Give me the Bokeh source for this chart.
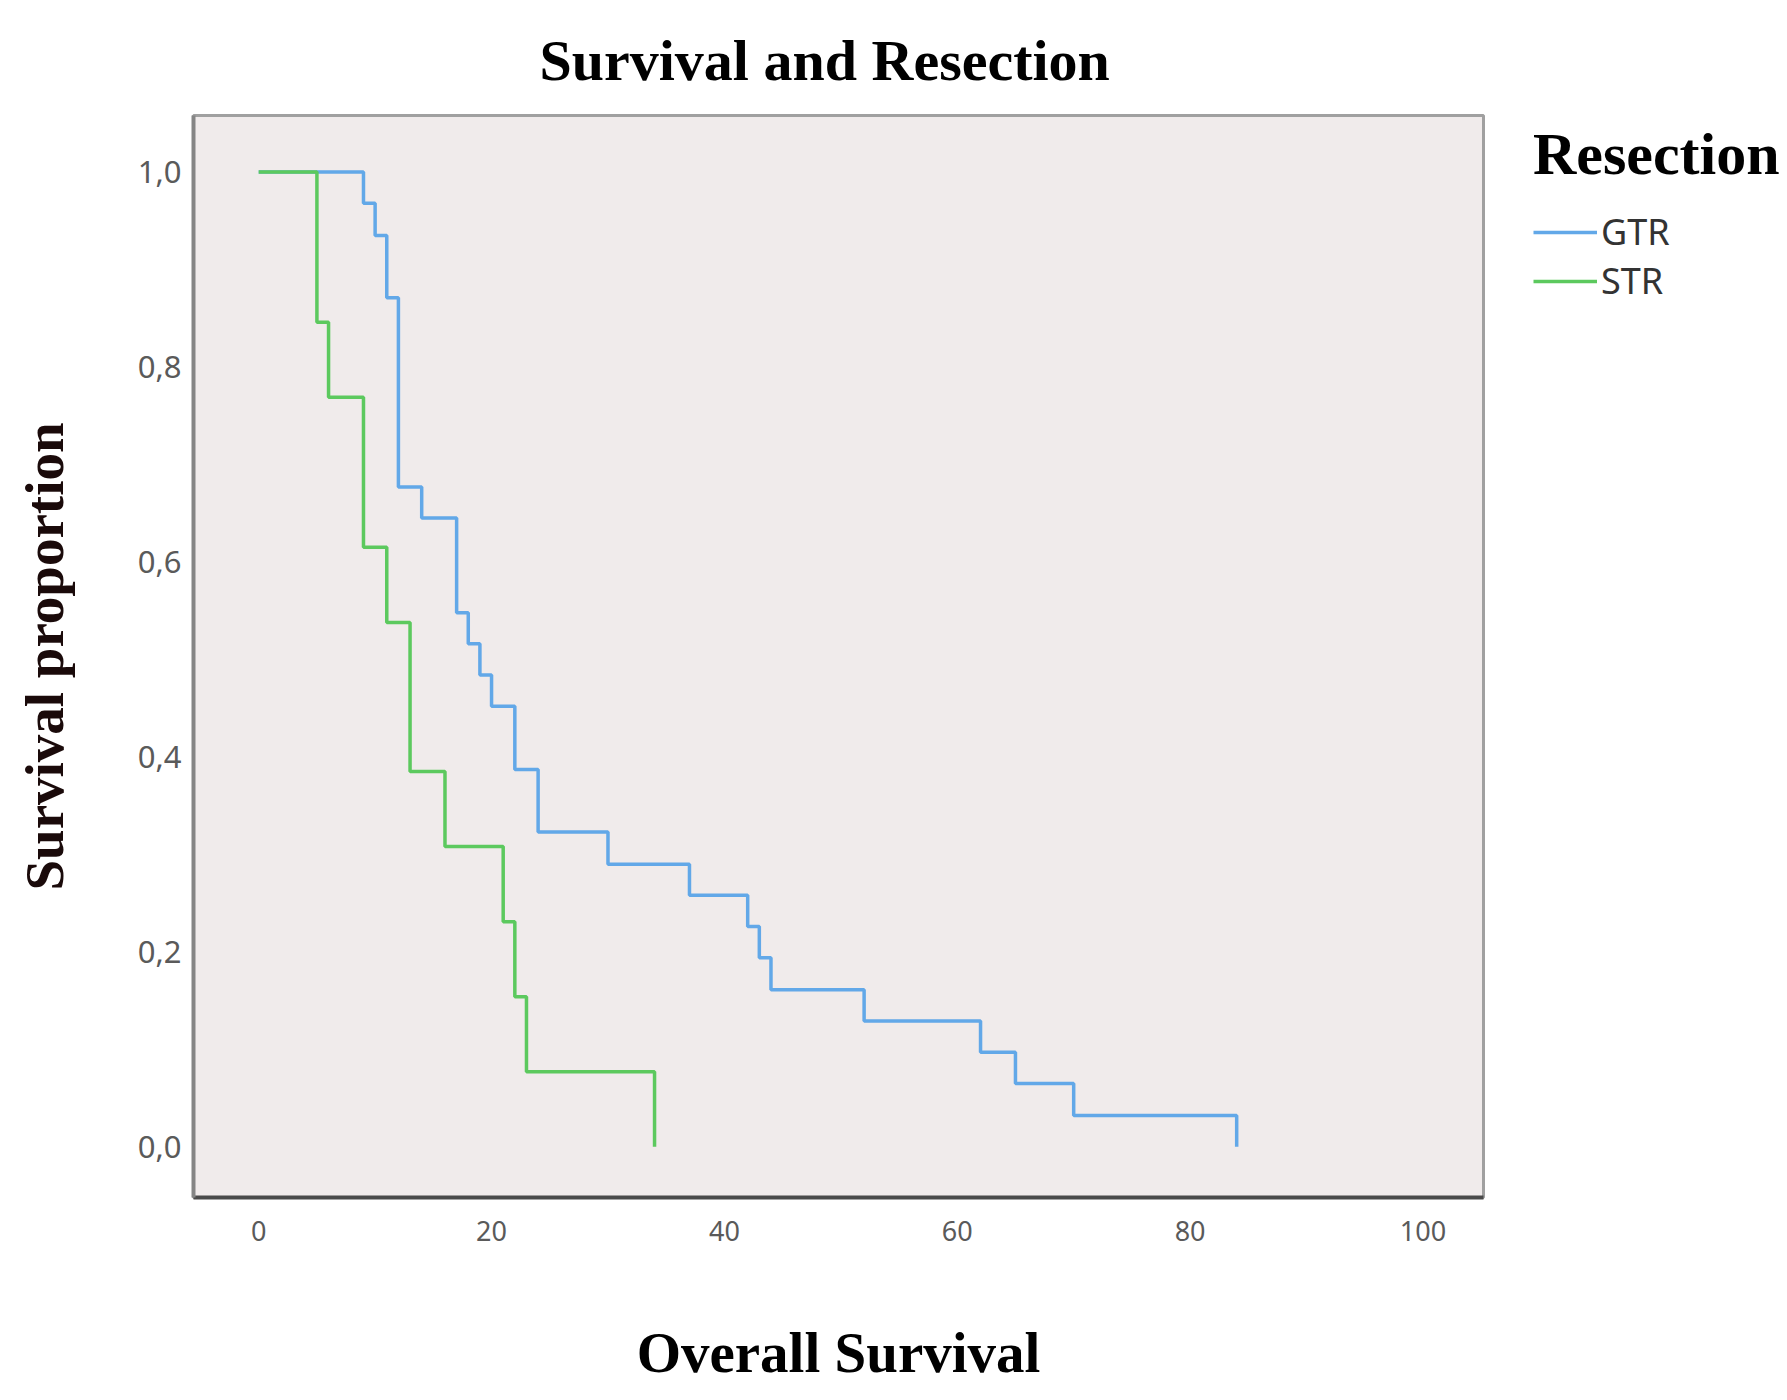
from bokeh.plotting import figure
from bokeh.models import Legend, LegendItem, FixedTicker
from bokeh.embed import file_html
from bokeh.resources import INLINE

# ---- data (Kaplan-Meier step values) ----
gtr_time = [0, 9, 10, 11, 12, 14, 17, 18, 19, 20, 22, 24, 30, 37, 42, 43, 44, 52, 62, 65, 70, 84]
gtr_surv = [1.000, 0.968, 0.935, 0.871, 0.677, 0.645, 0.548, 0.516, 0.484, 0.452, 0.387,
            0.323, 0.290, 0.258, 0.226, 0.194, 0.161, 0.129, 0.097, 0.065, 0.032, 0.000]
str_time = [0, 5, 6, 9, 11, 13, 16, 21, 22, 23, 34]
str_surv = [1.000, 0.846, 0.769, 0.615, 0.538, 0.385, 0.308, 0.231, 0.154, 0.077, 0.000]

x_ticks = [0, 20, 40, 60, 80, 100]
y_ticks = [0.0, 0.2, 0.4, 0.6, 0.8, 1.0]
y_tick_labels = ["0,0", "0,2", "0,4", "0,6", "0,8", "1,0"]
series_names = ["GTR", "STR"]
series_colors = ["#62a8e8", "#5cc95e"]

title_text = "Survival and Resection"
x_label = "Overall Survival"
y_label = "Survival proportion"
legend_title = "Resection"

# ---- layout ----
FL, FT = 193, 115
FW, FH = 1290, 1082
X0, X1 = -5.6, 105.2
Y0, Y1 = -0.052, 1.058

p = figure(frame_width=FW, frame_height=FH, x_range=(X0, X1), y_range=(Y0, Y1),
           output_backend="svg", toolbar_location=None,
           min_border_left=FL, min_border_right=0,
           min_border_top=FT, min_border_bottom=190)
p.background_fill_color = "#f0ebeb"
p.border_fill_color = "white"
p.outline_line_color = "#a0a0a0"
p.outline_line_width = 3
p.grid.visible = False

serif = "Liberation Serif"
sans = "Noto Sans"

xax = p.below[0]
yax = p.left[0]

p.title.text = title_text
p.title.text_font = serif
p.title.text_font_style = "bold"
p.title.text_font_size = "58px"
p.title.text_color = "black"
p.title.align = "left"
p.title.offset = 346
p.title.vertical_align = "bottom"
p.title.standoff = 46

for ax in (xax, yax):
    ax.major_tick_line_color = None
    ax.minor_tick_line_color = None
    ax.major_label_text_font = sans
    ax.major_label_text_color = "#5a5a5a"
    ax.axis_label_text_font = serif
    ax.axis_label_text_font_style = "bold"
    ax.axis_label_text_color = "black"

xax.ticker = FixedTicker(ticks=x_ticks)
xax.axis_line_color = "#4a4a4a"
xax.axis_line_width = 4
xax.major_label_text_font_size = "27px"
xax.major_label_standoff = 17
xax.axis_label = x_label
xax.axis_label_text_font_size = "57px"
xax.axis_label_standoff = 77

yax.ticker = FixedTicker(ticks=y_ticks)
yax.major_label_overrides = {t: s for t, s in zip(y_ticks, y_tick_labels)}
yax.axis_line_color = "#858585"
yax.axis_line_width = 4
yax.major_label_text_font_size = "31px"
yax.major_label_standoff = 6
yax.major_label_orientation = "horizontal"
yax.axis_label = y_label
yax.axis_label_text_font_size = "55px"
yax.axis_label_standoff = 60
yax.axis_label_text_color = "#1a0a0a"

r_gtr = p.step(gtr_time, gtr_surv, mode="after", line_color=series_colors[0], line_width=3.5)
r_str = p.step(str_time, str_surv, mode="after", line_color=series_colors[1], line_width=3.5)

legend = Legend(items=[LegendItem(label=series_names[0], renderers=[r_gtr]),
                       LegendItem(label=series_names[1], renderers=[r_str])],
                location=(50, 892),
                title=legend_title, title_text_font=serif, title_text_font_style="bold",
                title_text_font_size="60px", title_text_color="black", title_standoff=18,
                label_text_font=sans, label_text_font_size="36px", label_text_color="#333333",
                glyph_width=64, glyph_height=30, label_height=40, label_standoff=4,
                spacing=0, padding=0, margin=0,
                border_line_color=None, background_fill_alpha=0)
p.add_layout(legend, "right")

open("out.html", "w").write(file_html(p, INLINE))
